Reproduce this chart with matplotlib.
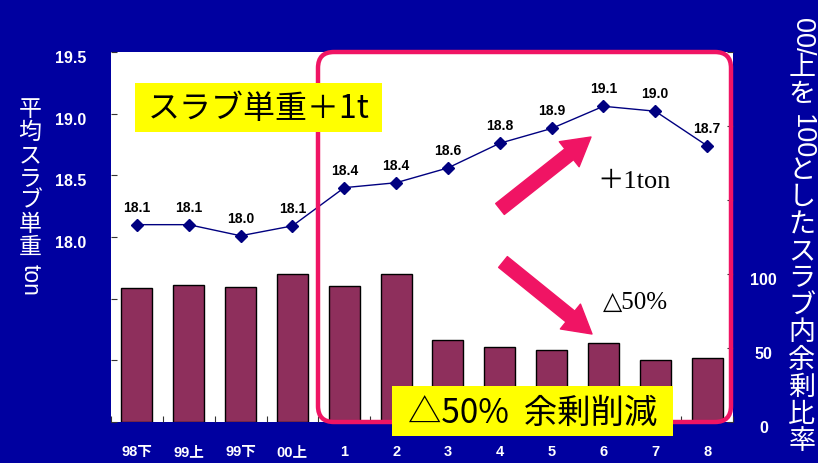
import numpy as np
import matplotlib
matplotlib.use('Agg')
import matplotlib.pyplot as plt
from matplotlib.patches import Rectangle, FancyBboxPatch
from matplotlib.transforms import IdentityTransform, ScaledTranslation

# period labels and the two series
periods = ['98下', '99上', '99下', '00上', '1', '2', '3', '4', '5', '6', '7', '8']
slab_weight = [18.10, 18.10, 18.01, 18.09, 18.40, 18.44, 18.56, 18.76, 18.88, 19.06, 19.02, 18.74]
surplus_ratio = [90.3, 92.8, 91.0, 100.0, 91.9, 100.0, 55.6, 50.5, 48.9, 53.2, 41.7, 43.2]

left_ticks = [16.5, 17.0, 17.5, 18.0, 18.5, 19.0, 19.5]
left_labels = ['', '', '', '18.0', '18.5', '19.0', '19.5']
right_ticks = [0, 50, 100, 150, 200, 250]
right_labels = ['0', '50', '100', '', '', '']

W, H = 818, 464
BG = '#0000a0'
PINK = '#f01464'
BAR = '#8e2f5c'
NAVY = '#000080'
CJK = ['Noto Sans CJK JP', 'DejaVu Sans']
LAT = ['Liberation Sans', 'Noto Sans CJK JP']

fig = plt.figure(figsize=(W / 100, H / 100), dpi=100, facecolor=BG)

# plot box in pixels: x 111..733, y 53..423
ax1 = fig.add_axes([111 / W, (H - 423) / H, 622 / W, 370 / H])
ax2 = ax1.twinx()
ax1.set_zorder(ax2.get_zorder() + 1)
ax1.patch.set_visible(False)
ax2.patch.set_visible(True)
ax2.patch.set_facecolor('white')

x = np.arange(len(periods))

ax2.bar(x, surplus_ratio, width=0.6, color=BAR, edgecolor='black', linewidth=1)
ax2.set_ylim(0, 250)
ax2.set_yticks(right_ticks)
ax2.set_yticklabels(right_labels)

ax1.plot(x, slab_weight, color=NAVY, lw=1, marker='D', ms=6, mfc=NAVY, mec=NAVY)
for xi, v in zip(x, slab_weight):
    ax1.annotate('%.1f' % v, (xi, v), xytext=(0, 13), textcoords='offset points',
                 ha='center', va='center', fontsize=10, fontweight='bold',
                 family=LAT, color='black')
ax1.set_ylim(16.5, 19.5)
ax1.set_yticks(left_ticks)
ax1.set_yticklabels(left_labels)
ax1.set_xlim(-0.5, len(periods) - 0.5)
ax1.set_xticks(np.arange(len(periods) + 1) - 0.5, minor=False)
ax1.set_xticklabels([])
ax1.set_xticks(x, minor=True)
ax1.set_xticklabels(periods, minor=True)

for a in (ax1, ax2):
    for s in a.spines.values():
        s.set_visible(False)
ax1.tick_params(axis='x', which='major', direction='in', length=4, color='#333333')
ax1.tick_params(axis='x', which='minor', length=0, pad=16, labelcolor='white',
                labelsize=10.5)
ax1.tick_params(axis='y', direction='in', length=4, color='#333333', pad=18,
                labelcolor='white', labelsize=11.5)
ax2.tick_params(axis='y', direction='in', length=4, color='#333333', pad=22,
                labelcolor='white', labelsize=11.5)

down = ScaledTranslation(0, -4 / 100, fig.dpi_scale_trans)
for lab in ax1.get_yticklabels() + ax2.get_yticklabels():
    lab.set_fontweight('bold')
    lab.set_family(LAT)
    lab.set_transform(lab.get_transform() + down)
for lab in ax2.get_yticklabels():
    lab.set_horizontalalignment('center')
for lab in ax1.get_xticklabels(minor=True):
    lab.set_fontweight('bold')
    lab.set_family(LAT)

ident = IdentityTransform()

# rounded pink frame around the later periods
frame = FancyBboxPatch((318, H - 423), 731 - 318, 423 - 53,
                       boxstyle='round,pad=0,rounding_size=16', transform=ident,
                       fill=False, ec=PINK, lw=3.2, zorder=3)
fig.add_artist(frame)

# arrows
for tail, tip in [((500, 210), (591, 138)), ((503, 263), (592, 335))]:
    ax1.annotate('', xy=(tip[0], H - tip[1]), xytext=(tail[0], H - tail[1]),
                 xycoords='figure pixels', textcoords='figure pixels',
                 annotation_clip=False,
                 arrowprops=dict(arrowstyle='simple,head_length=1.0,head_width=1.15,tail_width=0.5',
                                 mutation_scale=20, color=PINK, shrinkA=0, shrinkB=0))

# yellow call-out boxes
fig.add_artist(Rectangle((135, H - 133), 247, 49, transform=ident, fc='#ffff00',
                         ec='none', zorder=4))
fig.text(258.5 / W, 1 - 109 / H, 'スラブ単重＋1t', ha='center', va='center',
         fontsize=23, family=CJK, color='black', zorder=5)
fig.add_artist(Rectangle((392, H - 437), 281, 50, transform=ident, fc='#ffff00',
                         ec='none', zorder=4))
fig.text(533 / W, 1 - 413 / H, '△50%  余剰削減', ha='center', va='center',
         fontsize=24, family=CJK, color='black', zorder=5)

ax1.text(597 / W, 1 - 182 / H, '＋1ton', transform=fig.transFigure, ha='left',
         va='center', fontsize=19, family=['Liberation Serif', 'Noto Sans CJK JP'],
         color='black')
ax1.text(603 / W, 1 - 303 / H, '△50%', transform=fig.transFigure, ha='left',
         va='center', fontsize=18, family=['Liberation Serif', 'DejaVu Serif'],
         color='black')


# vertical axis titles: kana/kanji stacked upright, latin runs turned sideways
def vertical_label(xpx, ytop, parts, size):
    renderer = fig.canvas.get_renderer()
    em = size * 100 / 72
    cur = ytop
    for s, upright in parts:
        if upright:
            for ch in s:
                fig.text(xpx / W, 1 - (cur + em / 2) / H, ch, ha='center', va='center',
                         fontsize=size, family=CJK, color='white')
                cur += em
        else:
            t = fig.text(xpx / W, 1 - (cur + 6) / H, s, rotation=-90, ha='center',
                         va='top', fontsize=size, family=LAT, color='white')
            cur += t.get_window_extent(renderer).height + 4


vertical_label(30, 98, [('平均スラブ単重', True), ('ton', False)], 16.5)
vertical_label(802, 12, [('00/', False), ('上を', True), ('100', False),
                         ('としたスラブ内余剰比率', True)], 19.5)

fig.savefig('out.png', dpi=100, facecolor=BG)
